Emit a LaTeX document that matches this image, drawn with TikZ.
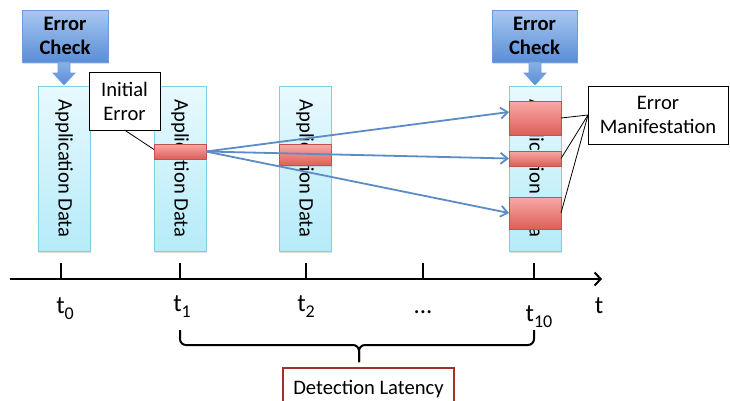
\documentclass[tikz,border=0pt]{standalone}
\usepackage{fontspec}
\setmainfont{Carlito}
\usetikzlibrary{arrows.meta,shadows}
\definecolor{ecTop}{HTML}{A9C8F0}
\definecolor{ecBot}{HTML}{5A8ED6}
\definecolor{ecLine}{HTML}{6E9CD9}
\definecolor{colTop}{HTML}{E8F9FE}
\definecolor{colBot}{HTML}{B5EBF9}
\definecolor{colLine}{HTML}{7DCFE2}
\definecolor{redTop}{HTML}{F8A9A6}
\definecolor{redBot}{HTML}{DD5E59}
\definecolor{redLine}{HTML}{C6504B}
\definecolor{flow}{HTML}{5B8CC6}
\definecolor{latLine}{HTML}{A3302B}
\begin{document}
\begin{tikzpicture}[x=1pt,y=-1pt,
  every node/.style={inner sep=0pt, outer sep=0pt},
  mainfont/.style={font=\fontsize{20.6}{24}\selectfont},
  softshadow/.style={drop shadow={shadow xshift=1pt, shadow yshift=-1.5pt, opacity=0.25}},
  checkbox/.style={draw=ecLine, line width=1pt, top color=ecTop, bottom color=ecBot,
    minimum width=86pt, minimum height=52pt, align=center,
    font=\fontsize{20.6}{23.5}\selectfont\bfseries, softshadow},
  checkarrow/.style={draw=ecLine, line width=0.6pt, top color=ecTop!60!ecBot, bottom color=ecBot},
  colbox/.style={draw=colLine, line width=1pt, top color=colTop, bottom color=colBot,
    minimum width=52pt, minimum height=165pt, softshadow},
  coltext/.style={rotate=-90, mainfont},
  errblk/.style={draw=redLine, line width=0.8pt, top color=redTop, bottom color=redBot,
    minimum width=52pt, drop shadow={shadow xshift=0.8pt, shadow yshift=-1.2pt, opacity=0.25}},
  callout/.style={draw=black, fill=white, line width=0.8pt, align=center, mainfont},
  flowarrow/.style={draw=flow, line width=1.8pt, -{Straight Barb[length=7pt,width=11pt]}},
  tlabel/.style={font=\fontsize{25}{25}\selectfont, anchor=base},
  subs/.style={},
]
\useasboundingbox (0,0) rectangle (730,400);
\clip (0,0) rectangle (730,400);
\fill[white] (0,0) rectangle (730,400);

% error check boxes and their block arrows
\node[checkbox] (ec1) at (65,36) {Error\\Check};
\node[checkbox, minimum width=85pt] (ec2) at (534.5,36) {Error\\Check};
\foreach \cx in {64,535}{
  \path[checkarrow] (\cx-6,62) -- (\cx+6,62) -- (\cx+6,73) -- (\cx+11,73) -- (\cx,85)
    -- (\cx-11,73) -- (\cx-6,73) -- cycle;
}

% application data columns
\node[colbox] (c1) at (64,168.5) {};
\node[colbox] (c2) at (180,168.5) {};
\node[colbox] (c3) at (305,168.5) {};
\node[colbox] (c4) at (535,168.5) {};
\node[coltext] (c1t) at (c1) {Application Data};
\node[coltext] (c2t) at (c2) {Application Data};
\node[coltext] (c3t) at (c3) {Application Data};
\node[coltext] (c4t) at (c4) {Application Data};

% error blocks
\node[errblk, minimum height=15pt] (r2) at (180,151.5) {};
\node[errblk, minimum height=21pt] (r3) at (305,155) {};
\node[errblk, minimum height=34pt] (r4a) at (535,118) {};
\node[errblk, minimum height=15pt] (r4b) at (535,158.5) {};
\node[errblk, minimum height=32pt] (r4c) at (535,213) {};

% callouts
\node[callout, minimum width=71pt, minimum height=58pt] (ie) at (124.5,101) {Initial\\Error};
\node[callout, minimum width=140pt, minimum height=58pt] (em) at (658,115) {Error\\Manifestation};
\draw[line width=0.8pt] (ie.south) -- ([yshift=2pt]r2.west);
\draw[line width=0.8pt] (em.west) -- (r4a.east);
\draw[line width=0.8pt] (em.west) -- (r4b.east);
\draw[line width=0.8pt] (em.west) -- (r4c.east);

% propagation arrows
\draw[flowarrow] (r2.east) -- ([yshift=6pt]r4a.west);
\draw[flowarrow] (r2.east) -- (r4b.west);
\draw[flowarrow] (r2.east) -- (r4c.west);

% time axis
\coordinate (ax0) at (10,279);
\coordinate (ax1) at (602,279);
\draw[line width=2pt, -{Straight Barb[length=6pt,width=13pt]}] (ax0) -- (ax1);
\foreach \n/\x in {0/61,1/180,2/306,3/423,10/534}{
  \coordinate (tk\n) at (\x,263);
  \coordinate (tb\n) at (\x,279);
  \draw[line width=1.8pt] (tk\n) -- (tb\n);
}
\node[tlabel] (l0) at (65,313) {t\raisebox{-6pt}{\fontsize{18}{18}\selectfont 0}};
\node[tlabel] (l1) at (182,311.5) {t\raisebox{-6pt}{\fontsize{18}{18}\selectfont 1}};
\node[tlabel] (l2) at (306,311.5) {t\raisebox{-6pt}{\fontsize{18}{18}\selectfont 2}};
\node[tlabel] (ld) at (423,313) {...};
\node[tlabel] (l10) at (539,321.5) {t\raisebox{-6pt}{\fontsize{18}{18}\selectfont 10}};
\node[tlabel] (lt) at (599,313) {t};

% brace
\coordinate (bl) at (180,330);
\coordinate (br) at (534,330);
\coordinate (bm) at (359,345);
\coordinate (btip) at (359,362);
\draw[line width=2pt, rounded corners=6pt] (bl) |- (bm) -- (btip);
\draw[line width=2pt, rounded corners=6pt] (br) |- (bm) -- (btip);

% detection latency
\node[draw=latLine, line width=1.5pt, fill=white, mainfont, minimum width=171pt, minimum height=42pt]
  (lat) at (368.5,389) {Detection Latency};
\end{tikzpicture}
\end{document}
